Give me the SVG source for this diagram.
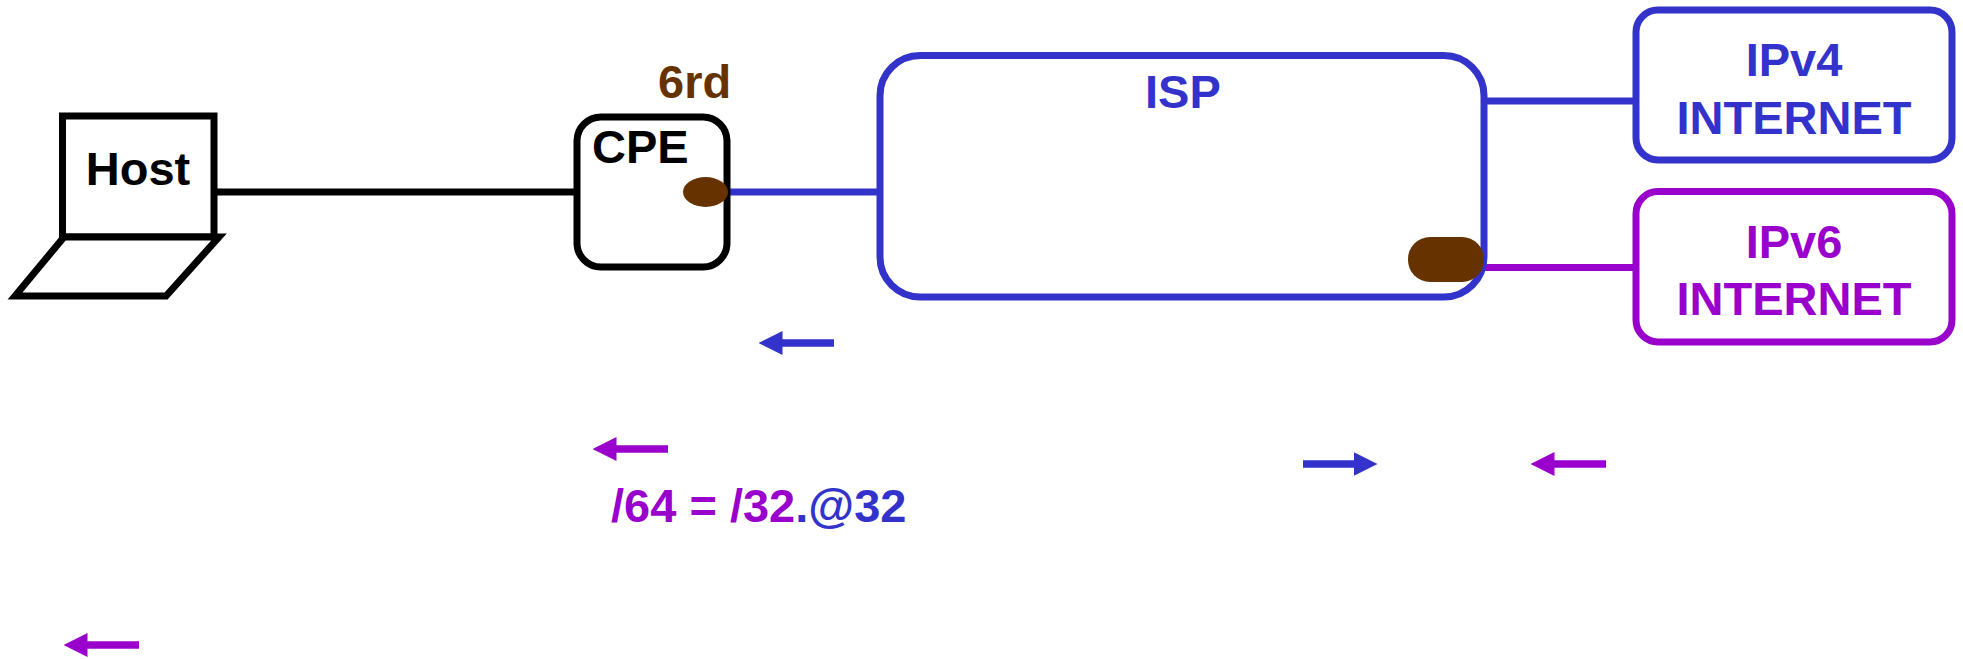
<svg xmlns="http://www.w3.org/2000/svg" width="1963" height="659" viewBox="0 0 1963 659">
<style>
text{font-family:"Liberation Sans",Arial,sans-serif;font-weight:bold;font-size:47px}
.blk{fill:#000}
.blu{fill:#3333CC}
.pur{fill:#9900CC}
.brn{fill:#663300}
.box{fill:#fff;stroke-width:7}
.ln{fill:none;stroke-width:7}
.ar{fill:none;stroke-width:7.5}
</style>
<defs>
<marker id="hb" markerUnits="userSpaceOnUse" markerWidth="24" markerHeight="24" viewBox="0 0 24 24" refX="0.5" refY="12" orient="auto"><path d="M0,0 L24,12 L0,24 z" fill="#3333CC"/></marker>
<marker id="hp" markerUnits="userSpaceOnUse" markerWidth="24" markerHeight="24" viewBox="0 0 24 24" refX="0.5" refY="12" orient="auto"><path d="M0,0 L24,12 L0,24 z" fill="#9900CC"/></marker>
</defs>
<rect width="1963" height="659" fill="#fff"/>
<g id="connectors">
<line class="ln" x1="214" y1="192" x2="578" y2="192" stroke="#000"/>
<line class="ln" x1="728" y1="192" x2="881" y2="192" stroke="#3333CC"/>
<line class="ln" x1="1484" y1="101" x2="1637" y2="101" stroke="#3333CC"/>
<line class="ln" x1="1480" y1="267.5" x2="1637" y2="267.5" stroke="#9900CC"/>
</g>
<g id="host">
<rect class="box" x="62.5" y="116" width="151.5" height="121" stroke="#000"/>
<polygon points="64,237 219,237 166,296 15,296" fill="#fff" stroke="#000" stroke-width="7"/>
<text class="blk" x="138" y="185" text-anchor="middle">Host</text>
</g>
<g id="cpe">
<rect class="box" x="577" y="117" width="150" height="150" rx="24" stroke="#000"/>
<text class="blk" x="592" y="163" font-size="46">CPE</text>
<text class="brn" x="658" y="98" font-size="46">6rd</text>
<ellipse cx="705.5" cy="192" rx="22.5" ry="15" fill="#663300"/>
</g>
<g id="isp">
<rect class="box" x="880" y="55.5" width="604" height="241.5" rx="40" stroke="#3333CC"/>
<text class="blu" x="1145" y="108" font-size="46">ISP</text>
<rect x="1408" y="237" width="76" height="45" rx="22" fill="#663300"/>
</g>
<g id="ipv4">
<rect class="box" x="1636" y="10" width="316" height="150" rx="22" stroke="#3333CC"/>
<text class="blu" x="1794" y="76" text-anchor="middle">IPv4</text>
<text class="blu" x="1794" y="134" text-anchor="middle">INTERNET</text>
</g>
<g id="ipv6">
<rect class="box" x="1636" y="191.5" width="316" height="150.5" rx="22" stroke="#9900CC"/>
<text class="pur" x="1794" y="258" text-anchor="middle">IPv6</text>
<text class="pur" x="1794" y="315" text-anchor="middle">INTERNET</text>
</g>
<g id="arrows">
<line class="ar" x1="834" y1="343" x2="782" y2="343" stroke="#3333CC" marker-end="url(#hb)"/>
<line class="ar" x1="668" y1="449" x2="616" y2="449" stroke="#9900CC" marker-end="url(#hp)"/>
<line class="ar" x1="1303" y1="464" x2="1354" y2="464" stroke="#3333CC" marker-end="url(#hb)"/>
<line class="ar" x1="1606" y1="464" x2="1554" y2="464" stroke="#9900CC" marker-end="url(#hp)"/>
<line class="ar" x1="139" y1="645" x2="87" y2="645" stroke="#9900CC" marker-end="url(#hp)"/>
</g>
<g id="formula">
<text x="611" y="522" font-size="48"><tspan class="pur">/64 = /32</tspan><tspan class="blu">.@32</tspan></text>
</g>
</svg>
